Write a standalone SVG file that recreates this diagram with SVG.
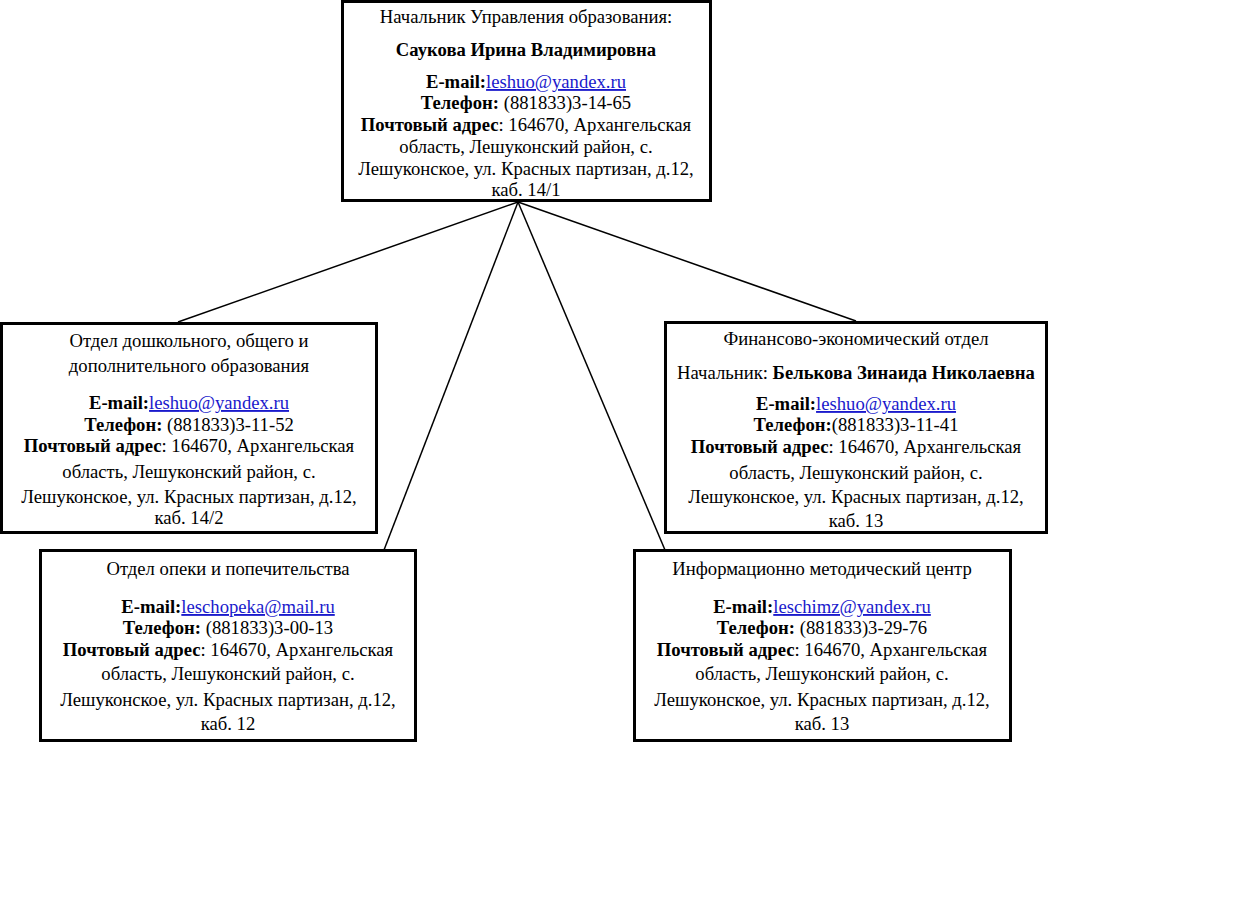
<svg xmlns="http://www.w3.org/2000/svg" width="1247" height="915" viewBox="0 0 1247 915">
<style>
text{font-family:"Liberation Serif","Times New Roman",serif;font-size:18.67px;fill:#000;text-anchor:middle}
.b{font-weight:bold}
.a{fill:#1a1acc;text-decoration:underline}
.box{fill:#fff;stroke:#000;stroke-width:3}
.con line{stroke:#000;stroke-width:1.5}
</style>
<rect width="1247" height="915" fill="#fff"/>
<g id="connectors" class="con">
<line x1="518" y1="202" x2="178" y2="322"/>
<line x1="518" y1="202" x2="856" y2="321"/>
<line x1="518" y1="202" x2="384" y2="550"/>
<line x1="518" y1="202" x2="665" y2="550"/>
</g>
<g id="head">
<rect class="box" x="342.5" y="1.5" width="368" height="199"/>
<text x="526" y="23">Начальник Управления образования:</text>
<text x="526" y="56" class="b">Саукова Ирина Владимировна</text>
<text x="526" y="88"><tspan class="b">E-mail:</tspan><tspan class="a">leshuo@yandex.ru</tspan></text>
<text x="526" y="109"><tspan class="b">Телефон:</tspan> (881833)3-14-65</text>
<text x="526" y="131"><tspan class="b">Почтовый адрес</tspan>: 164670, Архангельская</text>
<text x="526" y="153">область, Лешуконский район, с.</text>
<text x="526" y="175">Лешуконское, ул. Красных партизан, д.12,</text>
<text x="526" y="196">каб. 14/1</text>
</g>
<g id="preschool">
<rect class="box" x="1.5" y="323.5" width="375" height="209"/>
<text x="189" y="347">Отдел дошкольного, общего и</text>
<text x="189" y="372">дополнительного образования</text>
<text x="189" y="409"><tspan class="b">E-mail:</tspan><tspan class="a">leshuo@yandex.ru</tspan></text>
<text x="189" y="431"><tspan class="b">Телефон:</tspan> (881833)3-11-52</text>
<text x="189" y="452"><tspan class="b">Почтовый адрес</tspan>: 164670, Архангельская</text>
<text x="189" y="478">область, Лешуконский район, с.</text>
<text x="189" y="503">Лешуконское, ул. Красных партизан, д.12,</text>
<text x="189" y="524">каб. 14/2</text>
</g>
<g id="finance">
<rect class="box" x="665.5" y="322.5" width="381" height="210"/>
<text x="856" y="345">Финансово-экономический отдел</text>
<text x="856" y="379">Начальник: <tspan class="b">Белькова Зинаида Николаевна</tspan></text>
<text x="856" y="410"><tspan class="b">E-mail:</tspan><tspan class="a">leshuo@yandex.ru</tspan></text>
<text x="856" y="431"><tspan class="b">Телефон:</tspan>(881833)3-11-41</text>
<text x="856" y="453"><tspan class="b">Почтовый адрес</tspan>: 164670, Архангельская</text>
<text x="856" y="479">область, Лешуконский район, с.</text>
<text x="856" y="503">Лешуконское, ул. Красных партизан, д.12,</text>
<text x="856" y="527">каб. 13</text>
</g>
<g id="guardianship">
<rect class="box" x="40.5" y="550.5" width="375" height="190"/>
<text x="228" y="575">Отдел опеки и попечительства</text>
<text x="228" y="613"><tspan class="b">E-mail:</tspan><tspan class="a">leschopeka@mail.ru</tspan></text>
<text x="228" y="634"><tspan class="b">Телефон:</tspan> (881833)3-00-13</text>
<text x="228" y="656"><tspan class="b">Почтовый адрес</tspan>: 164670, Архангельская</text>
<text x="228" y="680">область, Лешуконский район, с.</text>
<text x="228" y="706">Лешуконское, ул. Красных партизан, д.12,</text>
<text x="228" y="730">каб. 12</text>
</g>
<g id="imc">
<rect class="box" x="634.5" y="550.5" width="376" height="190"/>
<text x="822" y="575">Информационно методический центр</text>
<text x="822" y="613"><tspan class="b">E-mail:</tspan><tspan class="a">leschimz@yandex.ru</tspan></text>
<text x="822" y="634"><tspan class="b">Телефон:</tspan> (881833)3-29-76</text>
<text x="822" y="656"><tspan class="b">Почтовый адрес</tspan>: 164670, Архангельская</text>
<text x="822" y="680">область, Лешуконский район, с.</text>
<text x="822" y="706">Лешуконское, ул. Красных партизан, д.12,</text>
<text x="822" y="730">каб. 13</text>
</g>
</svg>
